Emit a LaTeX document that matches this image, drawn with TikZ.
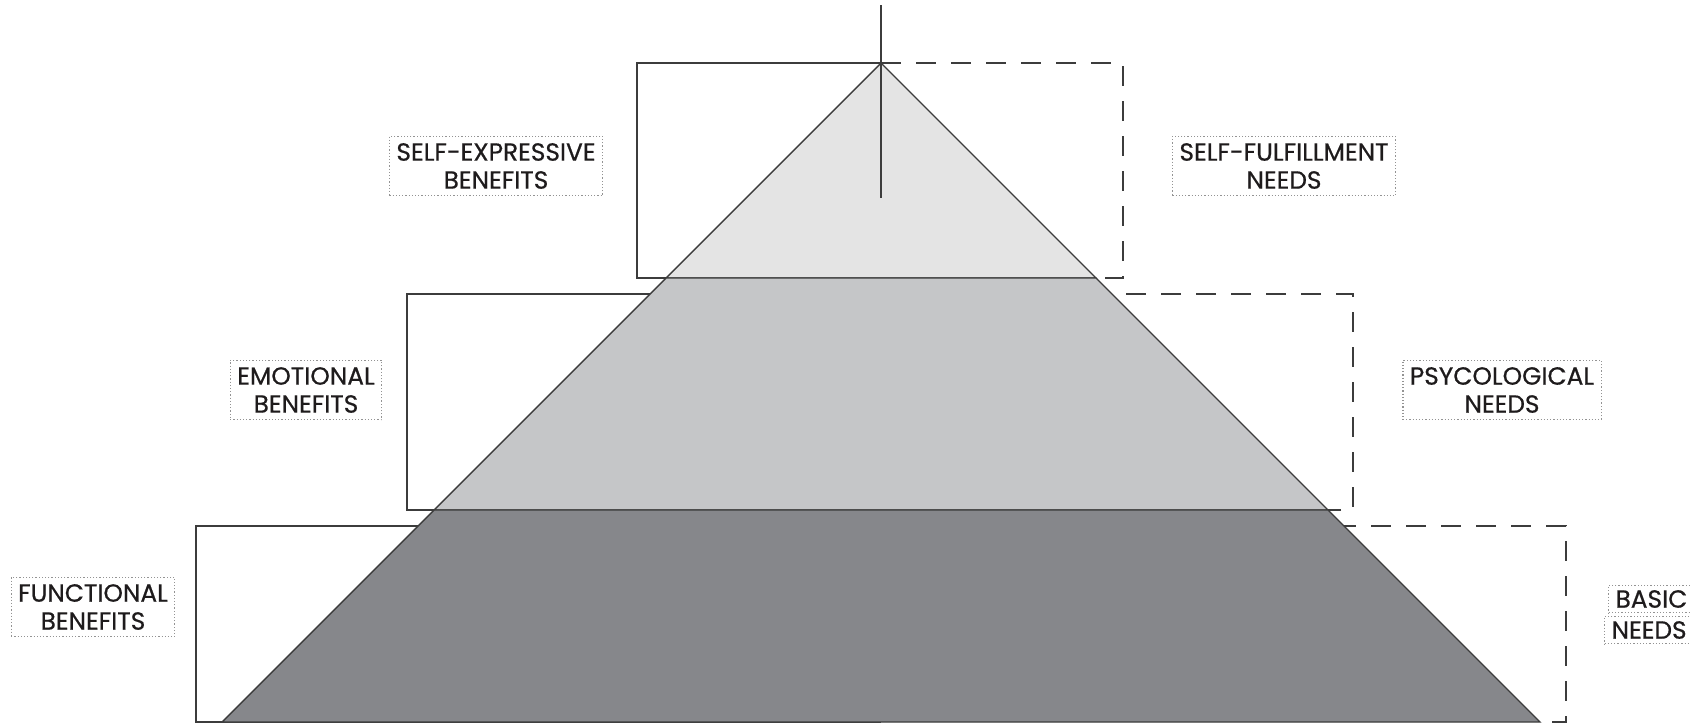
\documentclass[tikz,border=0pt]{standalone}
\usepackage{fontspec}
\setmainfont{Poppins}[FakeBold=0.6]
\usepackage{xcolor}
\definecolor{ink}{HTML}{1E1B1C}
\definecolor{edge}{HTML}{3C3C3C}
\definecolor{tierA}{HTML}{E4E4E4}
\definecolor{tierB}{HTML}{C5C6C8}
\definecolor{tierC}{HTML}{86878B}

\begin{document}
\begin{tikzpicture}[x=0.5pt, y=-0.5pt, every node/.style={font=\fontsize{12.4}{14}\selectfont, text=ink}]
\tikzset{lbl/.style={draw=gray!85, densely dotted, line width=0.6pt, align=center, inner xsep=3.5pt, inner ysep=3.5pt},
  lbox/.style={draw=edge, line width=0.7pt},
  rbox/.style={lbox, dash pattern=on 10pt off 7.5pt},
  tier/.style={draw=edge, line width=0.7pt},
  cut/.style={lbl, anchor=west, text width=48pt, align=left, inner ysep=2.5pt}}
\useasboundingbox (0,0) rectangle (1691,724);
% --- benefit (solid) and need (dashed) frames ---
\foreach \yt/\yb/\xl/\xr [evaluate=\yb as \xe using 881+\yb-63] in {63/278/637/1123, 294/510/407/1353, 526/722/196/1566} {
  \draw[lbox] (881,\yt) -- (\xl,\yt) -- (\xl,\yb) -- (881,\yb);
  \draw[rbox] (881,\yt) -- (\xr,\yt) -- (\xr,\yb) -- (\xe,\yb);
}
% --- pyramid ---
\coordinate (top) at (881,63);
\coordinate (l1) at (666,278);  \coordinate (r1) at (1096,278);
\coordinate (l2) at (434,510);  \coordinate (r2) at (1328,510);
\coordinate (l3) at (222,722);  \coordinate (r3) at (1540,722);
\filldraw[tier, fill=tierA] (top) -- (r1) -- (l1) -- cycle;
\filldraw[tier, fill=tierB] (l1) -- (r1) -- (r2) -- (l2) -- cycle;
\filldraw[tier, fill=tierC] (l2) -- (r2) -- (r3) -- (l3) -- cycle;
\coordinate (tip) at (881,5);
\coordinate (mast) at (881,198);
\draw[tier] (tip) -- (mast);
% --- labels ---
\node[lbl] (selfexp) at (496,166) {SELF-EXPRESSIVE\\BENEFITS};
\node[lbl] (selfful) at (1284,166) {SELF-FULFILLMENT\\NEEDS};
\node[lbl] (emo) at (306,390) {EMOTIONAL\\BENEFITS};
\node[lbl] (psy) at (1502,390) {PSYCOLOGICAL\\NEEDS};
\node[lbl] (func) at (93,607) {FUNCTIONAL\\BENEFITS};
\node[cut] (basic) at (1608,599) {BASIC};
\node[cut] (needs) at (1604,630) {NEEDS};
\end{tikzpicture}
\end{document}
